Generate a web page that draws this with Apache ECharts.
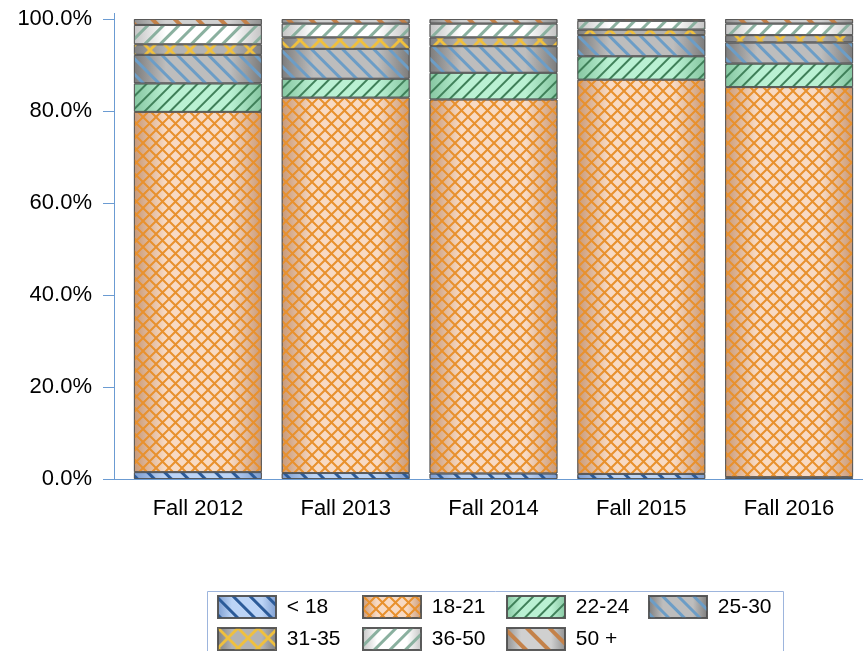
<!DOCTYPE html>
<html>
<head>
<meta charset="utf-8">
<script src="https://cdn.jsdelivr.net/npm/echarts@6/dist/echarts.min.js"></script>
<style>
  html, body { margin: 0; padding: 0; background: #fff; }
  #main { width: 863px; height: 651px; }
</style>
</head>
<body>
<div id="main"></div>
<script>
  // terms on the x axis
  var terms = ['Fall 2012', 'Fall 2013', 'Fall 2014', 'Fall 2015', 'Fall 2016'];
  // share of students per age group (%)
  var ageUnder18 = [1.5, 1.3, 1.2, 1.1, 0.4];
  var age18to21 = [78.3, 81.6, 81.3, 85.7, 84.8];
  var age22to24 = [6.2, 4.1, 5.8, 5.1, 5.1];
  var age25to30 = [6.2, 6.5, 5.8, 4.6, 4.6];
  var age31to35 = [2.3, 2.5, 1.9, 1.2, 1.6];
  var age36to50 = [4.2, 3.0, 3.0, 1.9, 2.5];
  var age50plus = [1.3, 1.0, 1.0, 0.4, 1.0];
  var groupNames = ['< 18', '18-21', '22-24', '25-30', '31-35', '36-50', '50 +'];

  var FONT = '"Liberation Sans", Arial, sans-serif';
  var AXIS_COLOR = '#6b9bd2';

  // shaded bar fill: darker at both sides, lighter in the middle
  function shade(edge, mid) {
    return new echarts.graphic.LinearGradient(0, 0, 1, 0, [
      {offset: 0, color: edge},
      {offset: 0.25, color: mid},
      {offset: 0.75, color: mid},
      {offset: 1, color: edge}
    ]);
  }

  // diagonal stripes, dir 1 = "\" , -1 = "/"
  function stripe(color, w, gap, dir) {
    return {
      symbol: 'rect', symbolSize: 1,
      dashArrayX: [1, 0], dashArrayY: [w, gap],
      rotation: dir * Math.PI / 4,
      color: color
    };
  }

  // X shaped tile -> diamond lattice when repeated
  function xPath(s, t) {
    var h = s / 2;
    return 'path://M0,0 L' + t + ',0 L' + h + ',' + (h - t) + ' L' + (s - t) + ',0 L' + s + ',0 L' + s + ',' + t +
      ' L' + (h + t) + ',' + h + ' L' + s + ',' + (s - t) + ' L' + s + ',' + s + ' L' + (s - t) + ',' + s +
      ' L' + h + ',' + (h + t) + ' L' + t + ',' + s + ' L0,' + s + ' L0,' + (s - t) + ' L' + (h - t) + ',' + h +
      ' L0,' + t + ' Z';
  }

  function lattice(color, w, h, t) {
    return {
      symbol: xPath(100, t), symbolKeepAspect: false, symbolSize: 1,
      dashArrayX: [w, 0], dashArrayY: [h, 0],
      rotation: 0,
      color: color
    };
  }

  var styles = [
    {color: shade('#7d9dd0', '#bcd4f6'), decal: stripe('#2c5b99', 2.5, 9, 1)},
    {color: shade('#c99a78', '#f8dac3'), decal: lattice('#e8912e', 13, 13, 11)},
    {color: shade('#86c6a1', '#baf1d3'), decal: stripe('#3f8059', 2, 6.5, -1)},
    {color: shade('#7c7c7c', '#bdbdbd'), decal: stripe('#6c9dc6', 2.5, 8, 1)},
    {color: shade('#808080', '#b3b3b3'), decal: lattice('#efc03e', 20, 20, 10)},
    {color: shade('#c4c4c4', '#ffffff'), decal: stripe('#8ab09f', 2.5, 8, -1)},
    {color: shade('#909090', '#d0d0d0'), decal: stripe('#c4824a', 4, 12, 1)}
  ];

  var values = [ageUnder18, age18to21, age22to24, age25to30, age31to35, age36to50, age50plus];

  var series = groupNames.map(function (name, i) {
    return {
      name: name,
      type: 'bar',
      stack: 'age',
      barWidth: 128,
      itemStyle: {
        color: styles[i].color,
        decal: styles[i].decal,
        borderColor: 'rgba(80,80,80,0.75)',
        borderWidth: 1
      },
      emphasis: {disabled: true},
      data: values[i]
    };
  });

  // legend laid out as a 4 column grid: one vertical legend per column
  var legendCols = [[groupNames[0], groupNames[4]], [groupNames[1], groupNames[5]],
                    [groupNames[2], groupNames[6]], [groupNames[3]]];
  var legendLeft = [217, 362, 506, 648];
  var legends = legendCols.map(function (names, i) {
    return {
      orient: 'vertical',
      left: legendLeft[i], top: 595,
      icon: 'rect',
      itemWidth: 58, itemHeight: 22, itemGap: 8,
      padding: 0,
      formatter: function (name) { return ' ' + name; },
      textStyle: {fontSize: 21, color: '#000', fontFamily: FONT},
      data: names
    };
  });

  var myChart = echarts.init(document.getElementById('main'));
  var option = {
    animation: false,
    grid: {left: 124, right: -9, top: 19, bottom: 172},
    // small pieces so the axis lines meet like in the original, and the legend frame
    graphic: [
      {type: 'line', shape: {x1: 114, y1: 479.5, x2: 125, y2: 479.5}, style: {stroke: AXIS_COLOR, lineWidth: 1}},
      {type: 'line', shape: {x1: 114.5, y1: 13, x2: 114.5, y2: 20}, style: {stroke: AXIS_COLOR, lineWidth: 1}},
      {type: 'rect', shape: {x: 207.5, y: 591.5, width: 576, height: 70}, style: {fill: 'none', stroke: '#9db5dd', lineWidth: 1}}
    ],
    legend: legends,
    xAxis: {
      type: 'category',
      data: terms,
      axisLine: {lineStyle: {color: AXIS_COLOR, width: 1}},
      axisTick: {alignWithLabel: true, length: 11, lineStyle: {color: AXIS_COLOR}},
      axisLabel: {fontSize: 22, color: '#000', fontFamily: FONT, margin: 19}
    },
    yAxis: {
      type: 'value',
      min: 0, max: 100, interval: 20,
      offset: 10,
      splitLine: {show: false},
      axisLine: {show: true, lineStyle: {color: AXIS_COLOR, width: 1}},
      axisTick: {show: true, length: 11, lineStyle: {color: AXIS_COLOR}},
      axisLabel: {
        fontSize: 22, color: '#000', fontFamily: FONT, margin: 22,
        formatter: function (v) { return v.toFixed(1) + '%'; }
      }
    },
    series: series
  };
  myChart.setOption(option, true);
</script>
</body>
</html>
